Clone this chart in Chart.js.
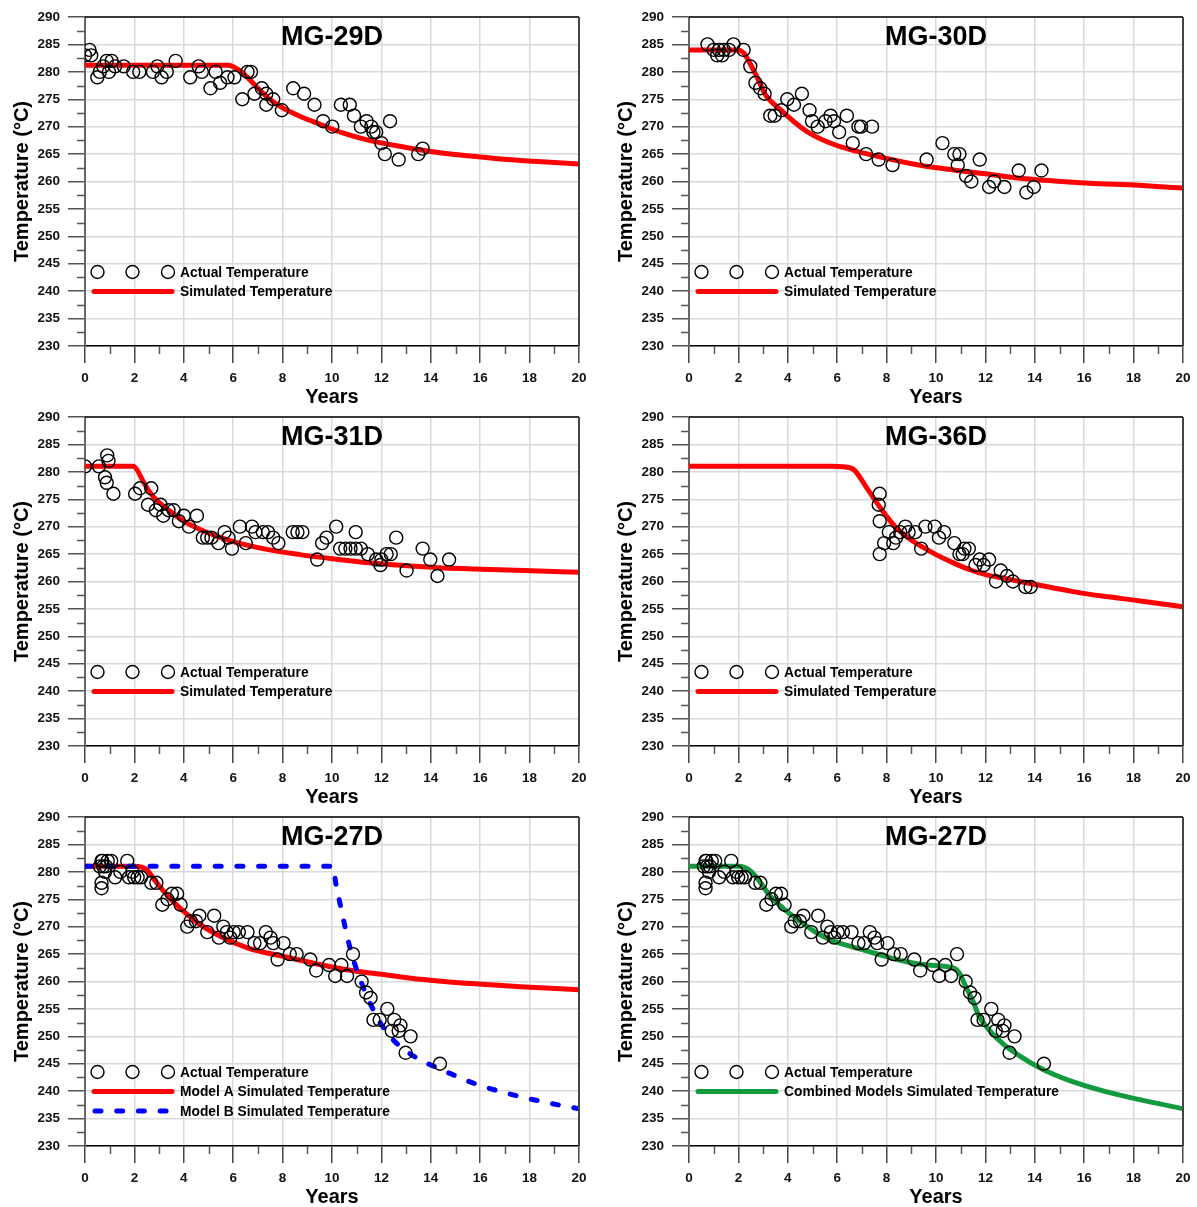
<!DOCTYPE html>
<html>
<head>
<meta charset="utf-8">
<script src="https://cdn.jsdelivr.net/npm/chart.js@4.4.1/dist/chart.umd.min.js"></script>
<style>
  html, body { margin: 0; padding: 0; background: #fff; overflow: hidden; width: 1197px; height: 1207px; }
  canvas { position: absolute; }
</style>
</head>
<body>
<canvas id="p1" width="598" height="410" style="left:0;top:0"></canvas>
<canvas id="p2" width="598" height="410" style="left:604px;top:0"></canvas>
<canvas id="p3" width="598" height="410" style="left:0;top:400px"></canvas>
<canvas id="p4" width="598" height="410" style="left:604px;top:400px"></canvas>
<canvas id="p5" width="598" height="410" style="left:0;top:800px"></canvas>
<canvas id="p6" width="598" height="410" style="left:604px;top:800px"></canvas>
<script>
// ---- Well MG-29D ----
const mg29Years = [0.0,0.18,0.25,0.5,0.6,0.74,0.88,1.08,0.97,1.22,1.57,1.95,2.2,2.75,2.93,3.1,3.31,3.67,4.26,4.6,4.73,5.08,5.29,5.47,5.77,6.05,6.37,6.58,6.72,6.86,7.16,7.34,7.34,7.62,7.97,8.43,8.87,9.29,9.64,10.01,10.36,10.72,10.89,11.17,11.4,11.59,11.68,11.79,12.0,12.14,12.35,12.7,13.49,13.67];
const mg29Temp  = [283,284,283,279,280,281,282,282,280,281,281,280,280,280,281,279,280,282,279,281,280,277,280,278,279,279,275,280,280,276,277,276,274,275,273,277,276,274,271,270,274,274,272,270,271,270,269,269,267,265,271,264,265,266];
const mg29SimYears = [0,5.8,6.2,6.6,7.0,7.4,7.9,8.7,9.6,10.4,11.5,12.9,14.3,15.7,17.1,18.5,20];
const mg29SimTemp  = [281.2,281.2,280.4,278.9,277.0,275.3,273.7,271.9,270.3,268.9,267.5,266.3,265.3,264.6,264.0,263.6,263.2];

// ---- Well MG-30D ----
const mg30Years = [0.75,1.0,1.14,1.21,1.34,1.41,1.62,1.8,2.21,2.48,2.69,2.88,3.06,3.29,3.47,3.74,3.98,4.25,4.57,4.88,4.98,5.21,5.53,5.73,5.87,6.08,6.39,6.63,6.86,6.97,7.41,7.17,7.68,8.24,9.62,10.26,10.74,10.95,10.88,11.22,11.43,11.77,12.15,12.35,12.77,13.35,13.66,13.96,14.27];
const mg30Temp  = [285,284,283,284,283,284,284,285,284,281,278,277,276,272,272,273,275,274,276,273,271,270,271,272,271,269,272,267,270,270,270,265,264,263,264,267,265,265,263,261,260,264,259,260,259,262,258,259,262];
const mg30SimYears = [0,2.0,2.2,2.5,2.8,3.1,3.7,4.5,5.0,5.9,6.8,7.9,9.3,10.7,12.0,13.4,14.8,16.2,18.2,20];
const mg30SimTemp  = [284,284,283.5,281.3,278.6,275.8,273.1,270.0,268.5,266.7,265.5,264.3,263.0,262.1,261.4,260.6,260.1,259.7,259.3,258.8];

// ---- Well MG-31D ----
const mg31Years = [0,0.56,0.9,0.95,0.81,0.88,1.15,2.03,2.23,2.68,2.55,2.87,3.06,3.17,3.38,3.59,3.8,4.0,4.21,4.53,4.77,4.95,5.12,5.4,5.65,5.81,5.95,6.27,6.51,6.76,6.9,7.2,7.41,7.62,7.83,8.41,8.6,8.8,9.4,9.6,9.78,10.17,10.33,10.54,10.75,10.96,10.96,11.17,11.45,11.79,11.96,12.0,12.21,12.38,12.6,13.02,13.67,13.98,14.27,14.74];
const mg31Temp  = [281,281,283,282,279,278,276,276,277,277,274,273,274,272,273,273,271,272,270,272,268,268,268,267,269,268,266,270,267,270,269,269,269,268,267,269,269,269,264,267,268,270,266,266,266,269,266,266,265,264,263,264,265,265,268,262,266,264,261,264];
const mg31SimYears = [0,1.95,2.1,2.35,2.65,3.0,3.45,4.0,4.8,5.9,7.3,8.7,10.1,11.5,12.9,14.3,15.7,17.8,20];
const mg31SimTemp  = [281,281,280.4,278.3,276.1,274.4,272.8,271.0,269.2,267.4,265.9,264.9,264.1,263.4,262.9,262.5,262.3,262.0,261.7];

// ---- Well MG-36D ----
const mg36Years = [7.72,7.68,7.72,7.72,7.9,8.09,8.27,8.38,8.55,8.76,8.89,9.16,9.4,9.57,9.95,10.12,10.33,10.74,10.95,11.08,11.15,11.33,11.6,11.77,11.93,12.15,12.43,12.62,12.87,13.11,13.62,13.83];
const mg36Temp  = [276,274,271,265,267,269,267,268,269,270,269,269,266,270,270,268,269,267,265,265,266,266,263,264,263,264,260,262,261,260,259,259];
const mg36SimYears = [0,5.8,6.55,6.72,7.25,7.8,8.35,8.9,9.45,10.0,10.7,11.4,12.05,12.75,13.4,14.1,15.5,16.8,18.2,20];
const mg36SimTemp  = [281,281,280.7,280.2,276.7,273.1,270.0,267.9,266.3,264.9,263.4,262.1,261.2,260.6,260.0,259.4,258.2,257.3,256.5,255.4];

// ---- Well MG-27D ----
const mg27Years = [0.6,0.67,0.74,0.81,0.92,1.06,0.7,0.85,0.67,0.67,1.22,1.43,1.71,1.78,1.92,1.99,2.13,2.27,2.68,2.89,3.13,3.34,3.52,3.73,3.87,4.14,4.28,4.49,4.63,4.95,5.23,5.42,5.6,5.74,5.88,6.02,6.23,6.58,6.86,7.09,7.32,7.51,7.62,8.04,7.8,8.29,8.57,9.12,9.36,9.88,10.13,10.38,10.61,10.85,11.2,11.38,11.56,11.68,11.93,12.24,12.42,12.52,12.7,12.77,12.98,13.18,14.37];
const mg27Temp  = [281,282,281,280,282,282,282,281,278,277,279,280,282,279,280,279,279,279,278,278,274,275,276,276,274,270,271,271,272,269,272,268,270,269,268,269,269,269,267,267,269,268,267,267,264,265,265,264,262,263,261,263,261,265,260,258,257,253,253,255,251,253,251,252,247,250,245];
const mg27ModelAYears = [0,2.0,2.5,2.8,3.2,3.7,4.6,5.5,6.6,8.0,9.4,10.8,12.2,13.6,15.0,16.4,17.8,20];
const mg27ModelATemp  = [281,281,280.4,278.6,276.4,274.0,270.6,268.2,266.1,264.6,263.2,262.0,261.2,260.4,259.8,259.4,259.0,258.5];
const mg27ModelBYears = [0,10.05,10.15,10.35,10.55,10.75,10.95,11.25,11.6,12.05,12.6,13.45,14.3,15.7,17.1,18.5,20];
const mg27ModelBTemp  = [281,281,278,273.7,269.5,265.8,262.8,259.1,255.5,251.8,248.8,246.0,244.2,241.5,239.6,238.1,236.8];
const mg27CombYears = [0,2.0,2.5,2.85,3.25,3.8,4.5,5.2,5.9,6.55,7.25,7.95,8.6,9.3,10.0,10.75,10.95,11.2,11.5,11.75,12.2,12.75,13.4,14.1,14.8,15.5,16.8,18.2,20];
const mg27CombTemp  = [281,281,280.1,278.3,275.8,273.4,271.0,268.8,267.3,266.4,265.5,264.6,263.8,263.2,262.9,262.4,261.5,259.1,256.4,253.6,250.9,248.5,246.4,244.5,243.0,241.8,240.0,238.5,236.8];

// Axis ticks
const yearTicks = [0,2,4,6,8,10,12,14,16,18,20];
const tempTicks = [230,235,240,245,250,255,260,265,270,275,280,285,290];

const FONT = '"Liberation Sans", Arial, Helvetica, sans-serif';
const RED = 'rgb(255,0,0)';
const BLUE = 'rgb(0,0,255)';
const GREEN = 'rgb(20,154,62)';

function pairs(xs, ys) { return xs.map((x, i) => ({ x: x, y: ys[i] })); }

// Frame, minor ticks, panel title and in-plot legend
const panelDecor = {
  id: 'panelDecor',
  afterDraw(chart, args, opts) {
    const { ctx, chartArea: a, scales: { x, y } } = chart;
    ctx.save();
    ctx.lineCap = 'butt';
    // top and right frame
    ctx.strokeStyle = '#000'; ctx.lineWidth = 1.5;
    ctx.beginPath(); ctx.moveTo(a.left, a.top); ctx.lineTo(a.right, a.top); ctx.stroke();
    ctx.strokeStyle = '#444'; ctx.lineWidth = 2;
    ctx.beginPath(); ctx.moveTo(a.right, a.top); ctx.lineTo(a.right, a.bottom); ctx.stroke();
    // minor ticks
    ctx.strokeStyle = '#555'; ctx.lineWidth = 1.5;
    for (let i = 0; i < tempTicks.length - 1; i++) {
      const py = Math.round(y.getPixelForValue((tempTicks[i] + tempTicks[i + 1]) / 2)) + 0.5;
      ctx.beginPath(); ctx.moveTo(a.left - 8, py); ctx.lineTo(a.left, py); ctx.stroke();
    }
    for (let i = 0; i < yearTicks.length - 1; i++) {
      const px = Math.round(x.getPixelForValue((yearTicks[i] + yearTicks[i + 1]) / 2)) + 0.5;
      ctx.beginPath(); ctx.moveTo(px, a.bottom); ctx.lineTo(px, a.bottom + 8); ctx.stroke();
    }
    // title
    ctx.fillStyle = '#000';
    ctx.font = 'bold 27px ' + FONT;
    ctx.textAlign = 'center'; ctx.textBaseline = 'middle';
    ctx.fillText(opts.title, (a.left + a.right) / 2, a.top + 21);
    // legend
    ctx.font = 'bold 13.8px ' + FONT;
    ctx.textAlign = 'left';
    const rows = [a.top + 255, a.top + 274.5, a.top + 294];
    opts.legend.forEach((item, i) => {
      const ly = rows[i];
      if (item.kind === 'points') {
        ctx.strokeStyle = '#000'; ctx.lineWidth = 1.4;
        [12.5, 47.5, 83].forEach(dx => {
          ctx.beginPath(); ctx.arc(a.left + dx, ly, 6.5, 0, Math.PI * 2); ctx.stroke();
        });
      } else {
        ctx.strokeStyle = item.color; ctx.lineWidth = 5; ctx.lineCap = 'round';
        ctx.setLineDash(item.dash ? [6, 15.7] : []);
        ctx.beginPath();
        ctx.moveTo(a.left + (item.dash ? 10 : 9), ly);
        ctx.lineTo(a.left + 87, ly);
        ctx.stroke();
        ctx.setLineDash([]); ctx.lineCap = 'butt';
      }
      ctx.fillStyle = '#000';
      ctx.fillText(item.text, a.left + 95, ly + 1);
    });
    ctx.restore();
  }
};

function makePanel(id, title, ax, ay, sims, legend) {
  const datasets = [{
    type: 'scatter',
    data: pairs(ax, ay),
    showLine: false,
    pointStyle: 'circle',
    pointRadius: 6.5,
    pointHoverRadius: 6.5,
    pointBorderWidth: 1.4,
    borderColor: '#000',
    backgroundColor: 'rgba(0,0,0,0)',
    order: 0
  }];
  sims.forEach((s, i) => {
    datasets.push({
      type: 'line',
      data: pairs(s.x, s.y),
      borderColor: s.color,
      borderWidth: 5,
      borderDash: s.dash ? [6, 15.7] : [],
      borderCapStyle: 'round',
      borderJoinStyle: 'round',
      pointRadius: 0,
      fill: false,
      cubicInterpolationMode: 'monotone',
      order: sims.length - i
    });
  });
  const tickFont = { family: FONT, size: 13.5, weight: 'bold' };
  const titleFont = { family: FONT, size: 20, weight: 'bold' };
  return new Chart(document.getElementById(id), {
    data: { datasets },
    options: {
      responsive: false,
      animation: false,
      events: [],
      layout: { padding: { top: 17, right: 19, left: 0, bottom: 0 } },
      plugins: {
        legend: { display: false },
        tooltip: { enabled: false },
        panelDecor: { title, legend }
      },
      scales: {
        x: {
          type: 'linear', min: 0, max: 20,
          afterFit: s => { s.height = 64; },
          afterBuildTicks: s => { s.ticks = yearTicks.map(v => ({ value: v })); },
          ticks: { font: tickFont, color: '#111', padding: 7, maxRotation: 0 },
          grid: { color: '#d9d9d9', lineWidth: 1.5, tickLength: 17, tickColor: '#444', tickWidth: 1.5 },
          border: { color: '#000', width: 1.5 },
          title: { display: true, text: 'Years', font: titleFont, color: '#000', padding: { top: 0, bottom: 1 } }
        },
        y: {
          type: 'linear', min: 230, max: 290,
          afterFit: s => { s.width = 85; },
          afterBuildTicks: s => { s.ticks = tempTicks.map(v => ({ value: v })); },
          ticks: { font: tickFont, color: '#111', padding: 8 },
          grid: { color: '#d9d9d9', lineWidth: 1.5, tickLength: 17, tickColor: '#555', tickWidth: 1.5 },
          border: { color: '#666', width: 2 },
          title: { display: true, text: 'Temperature (°C)', font: titleFont, color: '#000', padding: { top: 10, bottom: 0 } }
        }
      }
    },
    plugins: [panelDecor]
  });
}

const legendActual = { kind: 'points', text: 'Actual Temperature' };

makePanel('p1', 'MG-29D', mg29Years, mg29Temp,
  [{ x: mg29SimYears, y: mg29SimTemp, color: RED }],
  [legendActual, { kind: 'line', color: RED, text: 'Simulated Temperature' }]);

makePanel('p2', 'MG-30D', mg30Years, mg30Temp,
  [{ x: mg30SimYears, y: mg30SimTemp, color: RED }],
  [legendActual, { kind: 'line', color: RED, text: 'Simulated Temperature' }]);

makePanel('p3', 'MG-31D', mg31Years, mg31Temp,
  [{ x: mg31SimYears, y: mg31SimTemp, color: RED }],
  [legendActual, { kind: 'line', color: RED, text: 'Simulated Temperature' }]);

makePanel('p4', 'MG-36D', mg36Years, mg36Temp,
  [{ x: mg36SimYears, y: mg36SimTemp, color: RED }],
  [legendActual, { kind: 'line', color: RED, text: 'Simulated Temperature' }]);

makePanel('p5', 'MG-27D', mg27Years, mg27Temp,
  [{ x: mg27ModelAYears, y: mg27ModelATemp, color: RED },
   { x: mg27ModelBYears, y: mg27ModelBTemp, color: BLUE, dash: true }],
  [legendActual,
   { kind: 'line', color: RED, text: 'Model A Simulated Temperature' },
   { kind: 'line', color: BLUE, dash: true, text: 'Model B Simulated Temperature' }]);

makePanel('p6', 'MG-27D', mg27Years, mg27Temp,
  [{ x: mg27CombYears, y: mg27CombTemp, color: GREEN }],
  [legendActual, { kind: 'line', color: GREEN, text: 'Combined Models Simulated Temperature' }]);
</script>
</body>
</html>
